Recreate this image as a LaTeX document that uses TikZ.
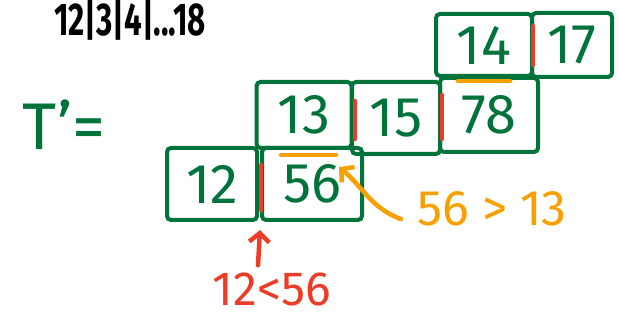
\documentclass[tikz,border=0pt]{standalone}
\usepackage{fontspec}
\setmainfont{Fira Sans}
\usetikzlibrary{arrows.meta,calc}
\definecolor{pgreen}{RGB}{0,115,58}
\definecolor{porange}{RGB}{247,160,0}
\definecolor{pred}{RGB}{236,60,40}
\tikzset{
  cell/.style={draw=pgreen, line width=4pt, rounded corners=4pt, text=pgreen,
    font=\fontsize{56}{56}\selectfont, inner sep=0pt},
  sepline/.style={draw=pred, line width=4.5pt, line cap=round},
  overline/.style={draw=porange, line width=4.5pt, line cap=round},
  hand/.style={font=\fontsize{50}{50}\selectfont, inner sep=0pt, text depth=0pt},
  arr/.style={line width=4.5pt, line cap=round, -{Straight Barb[length=9pt,width=20pt,line width=4.5pt]}},
}
\begin{document}
\begin{tikzpicture}[x=1pt,y=-1pt]
\useasboundingbox (0,0) rectangle (619,320);
% top sequence
\node[font=\bfseries\fontsize{46}{46}\selectfont, xscale=0.68, inner sep=0pt, text depth=0pt, text height=33pt, anchor=base] (seq) at (130,36) {12|3|4|...18};
% T' =
\node[text=pgreen, font=\fontsize{66}{66}\selectfont, inner sep=0pt, anchor=base] (tp) at (64,150) {T'=};
% cells
\node[cell, minimum width=90pt, minimum height=72pt] (b12) at (212,184) {12};
\node[cell, minimum width=100pt, minimum height=72pt] (b56) at (312,184) {56};
\node[cell, minimum width=95pt, minimum height=66pt] (b13) at (304,115) {13};
\node[cell, minimum width=88pt, minimum height=72pt] (b15) at (396,118) {15};
\node[cell, minimum width=98pt, minimum height=74pt] (b78) at (489,115) {78};
\node[cell, minimum width=96pt, minimum height=62pt] (b14) at (484,45) {14};
\node[cell, minimum width=80pt, minimum height=64pt] (b17) at (572,45) {17};
% red separators
\draw[sepline] ([xshift=1pt,yshift=-19pt]b56.north west) -- ([xshift=1pt,yshift=12pt]b56.south west);
\draw[sepline] ([xshift=5pt,yshift=-21pt]b15.north west) -- ([xshift=5pt,yshift=17pt]b15.south west);
\draw[sepline] ([xshift=4pt,yshift=-19pt]b78.north west) -- ([xshift=4pt,yshift=15pt]b78.south west);
\draw[sepline] ([xshift=3pt,yshift=-15pt]b17.north west) -- ([xshift=3pt,yshift=14pt]b17.south west);
% orange overlines
\draw[overline] ([xshift=21pt,yshift=-9pt]b56.north west) -- ([xshift=76pt,yshift=-9pt]b56.north west);
\draw[overline] ([xshift=20pt,yshift=-5pt]b78.north west) -- ([xshift=72pt,yshift=-5pt]b78.north west);
% labels
\node[hand, text=porange, anchor=base] (gt) at (492,226) {56 > 13};
\node[hand, text=pred, anchor=base, font=\fontsize{48}{48}\selectfont] (lt) at (272,306) {12<56};
% arrows
\draw[arr, porange] ([xshift=-16pt,yshift=-10pt]gt.west) to[out=160, in=-40] ([xshift=27pt,yshift=17pt]b56.center);
\draw[arr, pred] ([xshift=-14pt,yshift=8pt]lt.north) -- ([xshift=1pt,yshift=-8pt]b12.south east);
\end{tikzpicture}
\end{document}
